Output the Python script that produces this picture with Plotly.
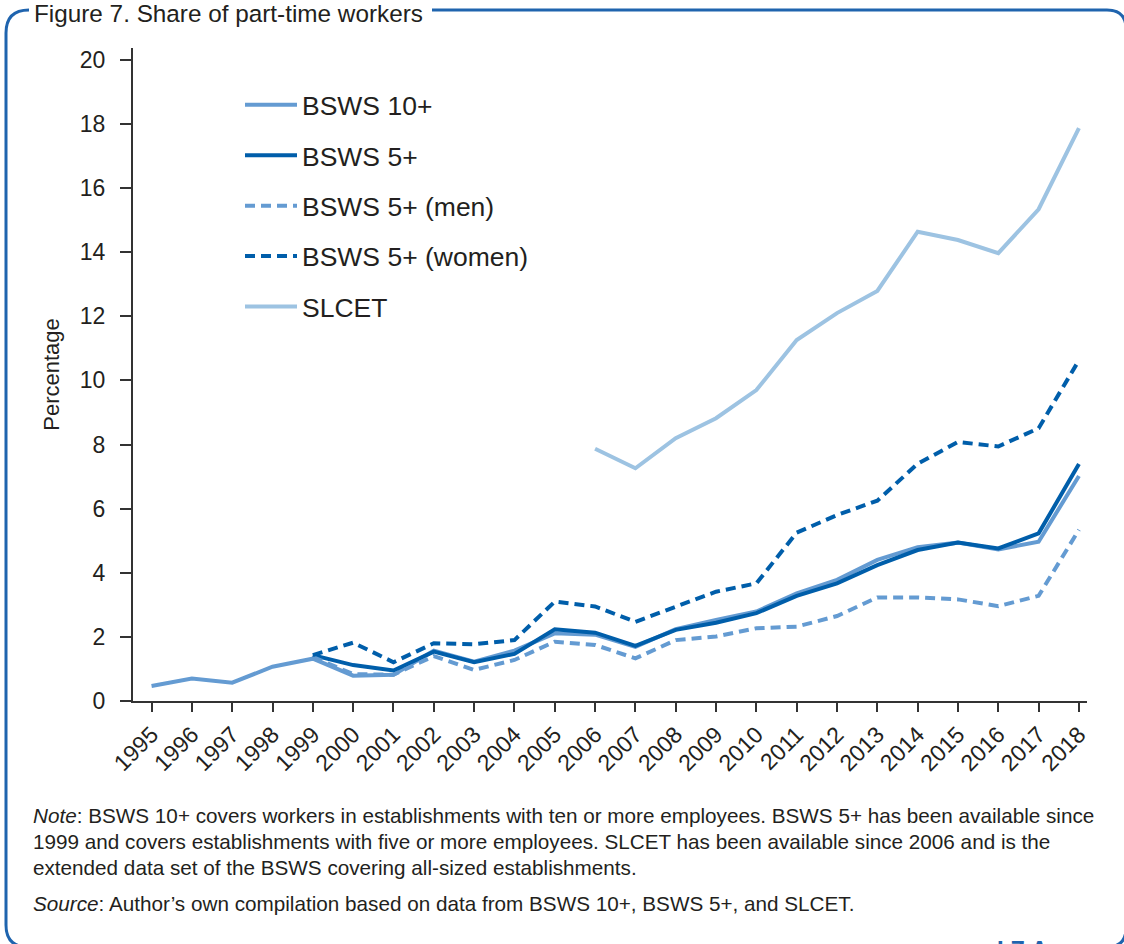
import plotly.graph_objects as go

years = list(range(1995, 2019))
bsws10 = [0.47, 0.70, 0.57, 1.07, 1.32, 0.79, 0.82, 1.57, 1.23, 1.57, 2.11, 2.07,
          1.69, 2.24, 2.53, 2.79, 3.36, 3.78, 4.40, 4.80, 4.94, 4.73, 4.97, 7.02]
bsws5 = [None, None, None, None, 1.43, 1.12, 0.95, 1.54, 1.21, 1.47, 2.24, 2.13,
         1.72, 2.22, 2.44, 2.74, 3.28, 3.67, 4.24, 4.71, 4.94, 4.76, 5.23, 7.39]
bsws5_men = [None, None, None, None, 1.37, 0.84, 0.82, 1.40, 0.97, 1.28, 1.85, 1.75,
             1.33, 1.90, 2.01, 2.27, 2.32, 2.65, 3.23, 3.23, 3.17, 2.96, 3.28, 5.34]
bsws5_women = [None, None, None, None, 1.43, 1.82, 1.21, 1.80, 1.77, 1.90, 3.10, 2.95,
               2.47, 2.94, 3.41, 3.67, 5.25, 5.80, 6.25, 7.40, 8.08, 7.94, 8.51, 10.63]
slcet = [None] * 11 + [7.87, 7.26, 8.20, 8.82, 9.70, 11.26, 12.10, 12.79, 14.64,
                       14.38, 13.97, 15.34, 17.87]
tick_labels = [str(y) for y in years]
y_ticks = list(range(0, 21, 2))

W, H = 1124, 944
L, R, T, B = 133, 37, 48, 243
PW, PH = W - L - R, H - T - B

def pu(px):
    return (px - L) / PW

def pv(py):
    return (H - B - py) / PH

def P(px, py):
    return f"{pu(px):.5f},{pv(py):.5f}"

FONT = "Liberation Sans, Arial, sans-serif"
TXT = "#231f20"
MED = "#649bd2"
DARK = "#005eaa"
LIGHT = "#9dc3e2"
BORDER = "#1f64ae"

fig = go.Figure()
series = [
    ("BSWS 10+", bsws10, MED, "solid"),
    ("BSWS 5+", bsws5, DARK, "solid"),
    ("BSWS 5+ (men)", bsws5_men, MED, "10px,6px"),
    ("BSWS 5+ (women)", bsws5_women, DARK, "10px,6px"),
    ("SLCET", slcet, LIGHT, "solid"),
]
for i, (name, vals, col, dash) in enumerate(series):
    fig.add_trace(go.Scatter(
        x=years, y=vals, name=name, mode="lines",
        line=dict(color=col, width=4, dash=dash),
        legendgroup=f"g{i}", connectgaps=False,
    ))

shapes = []
shapes.append(dict(
    type="path", xref="paper", yref="paper",
    path=f"M{P(29,10)} Q{P(6,10)} {P(6,33)} L{P(6,925)} Q{P(6,947)} {P(28,947)} L{P(985,947)}",
    line=dict(color=BORDER, width=3), layer="above"))
shapes.append(dict(
    type="path", xref="paper", yref="paper",
    path=f"M{P(432,10)} L{P(1107,10)} Q{P(1126,10)} {P(1126,29)} L{P(1126,928)} Q{P(1126,947)} {P(1107,947)} L{P(1050,947)}",
    line=dict(color=BORDER, width=3), layer="above"))

NOTE_SIZE = 20.7
annotations = [
    dict(text="Figure 7. Share of part-time workers", xref="paper", yref="paper",
         x=pu(32), y=pv(13), xanchor="left", yanchor="middle", showarrow=False,
         font=dict(family=FONT, size=24.3, color=TXT)),
    dict(text="<i>Note</i>: BSWS 10+ covers workers in establishments with ten or more employees. BSWS 5+ has been available since",
         xref="paper", yref="paper", x=pu(31), y=pv(815), xanchor="left", yanchor="middle",
         showarrow=False, font=dict(family=FONT, size=NOTE_SIZE, color=TXT)),
    dict(text="1999 and covers establishments with five or more employees. SLCET has been available since 2006 and is the",
         xref="paper", yref="paper", x=pu(31), y=pv(841), xanchor="left", yanchor="middle",
         showarrow=False, font=dict(family=FONT, size=NOTE_SIZE, color=TXT)),
    dict(text="extended data set of the BSWS covering all-sized establishments.",
         xref="paper", yref="paper", x=pu(31), y=pv(867), xanchor="left", yanchor="middle",
         showarrow=False, font=dict(family=FONT, size=NOTE_SIZE, color=TXT)),
    dict(text="<i>Source</i>: Author\u2019s own compilation based on data from BSWS 10+, BSWS 5+, and SLCET.",
         xref="paper", yref="paper", x=pu(31), y=pv(903), xanchor="left", yanchor="middle",
         showarrow=False, font=dict(family=FONT, size=NOTE_SIZE, color=TXT)),
    dict(text="<b>I Z A</b>", xref="paper", yref="paper", x=pu(995), y=pv(934),
         xanchor="left", yanchor="top", showarrow=False,
         font=dict(family=FONT, size=24, color=BORDER)),
]

fig.update_layout(
    width=W, height=H,
    margin=dict(l=L, r=R, t=T, b=B, autoexpand=False),
    paper_bgcolor="white", plot_bgcolor="white",
    font=dict(family=FONT, color=TXT),
    showlegend=True,
    legend=dict(x=pu(240), y=pv(81), xanchor="left", yanchor="top",
                font=dict(family=FONT, size=26.5, color=TXT),
                bgcolor="rgba(0,0,0,0)", tracegroupgap=13, itemwidth=52),
    xaxis=dict(range=[1994.54, 2018.2], tickmode="array", tickvals=years,
               ticktext=tick_labels, tickangle=-45, ticks="outside", ticklen=9,
               tickwidth=2, tickcolor="#333", showline=True, linecolor="#333",
               linewidth=2, showgrid=False, zeroline=False,
               tickfont=dict(family=FONT, size=23, color=TXT)),
    yaxis=dict(range=[0, 20.37], tickmode="array", tickvals=y_ticks,
               ticks="outside", ticklen=11, tickwidth=2, tickcolor="#333",
               showline=True, linecolor="#333", linewidth=2, showgrid=False,
               zeroline=False, tickfont=dict(family=FONT, size=23, color=TXT),
               ticklabelstandoff=10,
               title=dict(text="Percentage", font=dict(family=FONT, size=22, color=TXT),
                          standoff=14)),
    shapes=shapes,
    annotations=annotations,
)

fig.write_html("out.html", config={"displayModeBar": False},
               post_script="document.body.style.margin='0';document.body.style.overflow='hidden';")
